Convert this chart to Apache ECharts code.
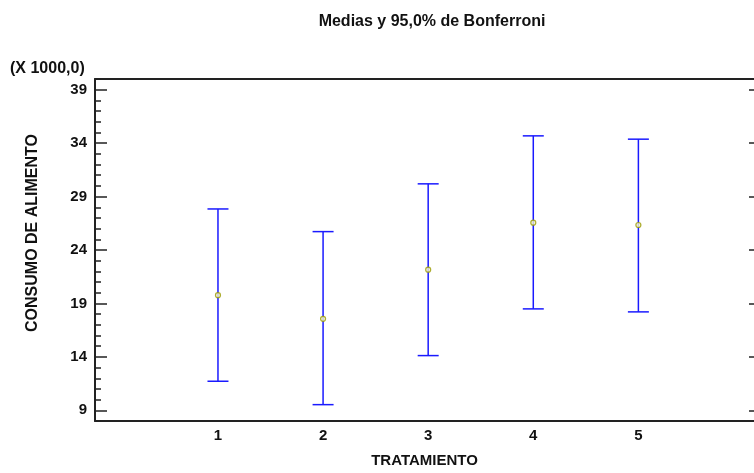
<!DOCTYPE html>
<html>
<head>
<meta charset="utf-8">
<script src="https://cdn.jsdelivr.net/npm/echarts@6/dist/echarts.min.js"></script>
<style>
html,body{margin:0;padding:0;background:#fff;}
#c{width:754px;height:473px;}
</style>
</head>
<body>
<div id="c"></div>
<script>
const categories = ['1', '2', '3', '4', '5'];
const means = [19.77, 17.56, 22.16, 26.56, 26.34];
const lower = [11.72, 9.53, 14.12, 18.49, 18.21];
const upper = [27.84, 25.72, 30.19, 34.68, 34.37];
const yTicks = [9, 14, 19, 24, 29, 34, 39];
const xTicks = [1, 2, 3, 4, 5];

const FONT = 'Liberation Sans, Arial, sans-serif';
const AXIS = '#222';
const BLUE = '#1a1aff';

const chart = echarts.init(document.getElementById('c'));

const barData = categories.map((c, i) => [i + 1, lower[i], upper[i]]);
const meanData = categories.map((c, i) => [i + 1, means[i]]);

chart.setOption({
  animation: false,
  backgroundColor: '#fff',
  title: {
    text: 'Medias y 95,0% de Bonferroni',
    left: 427, top: 9, textAlign: 'center',
    textStyle: {fontFamily: FONT, fontSize: 16, fontWeight: 'bold', color: '#111'}
  },
  grid: {left: 95, right: 0, top: 79, bottom: 52, containLabel: false, outerBoundsMode: 'none'},
  xAxis: [{
    type: 'value', min: -0.17, max: 6.1, position: 'bottom',
    axisLine: {show: true, onZero: false, lineStyle: {color: AXIS, width: 2}},
    axisTick: {show: false},
    splitLine: {show: false},
    axisLabel: {
      customValues: xTicks, margin: 7,
      formatter: v => categories[v - 1] || '',
      fontFamily: FONT, fontSize: 15, fontWeight: 'bold', color: '#111'
    },
    name: 'TRATAMIENTO', nameLocation: 'middle', nameGap: 32,
    nameTextStyle: {fontFamily: FONT, fontSize: 15, fontWeight: 'bold', color: '#111'}
  }, {
    type: 'value', min: -0.17, max: 6.1, position: 'top',
    axisLine: {show: true, onZero: false, lineStyle: {color: AXIS, width: 2}},
    axisTick: {show: false}, axisLabel: {show: false}, splitLine: {show: false}
  }],
  yAxis: [{
    type: 'value', min: 8, max: 40, position: 'left',
    axisLine: {show: true, onZero: false, lineStyle: {color: AXIS, width: 2}},
    axisTick: {show: true, inside: true, length: 12, customValues: yTicks, lineStyle: {color: AXIS, width: 1.5}},
    axisLabel: {
      customValues: yTicks, margin: 8,
      fontFamily: FONT, fontSize: 15, fontWeight: 'bold', color: '#111'
    },
    splitLine: {show: false}
  }, {
    type: 'value', min: 8, max: 40, interval: 1, position: 'left',
    axisLine: {show: false, onZero: false},
    axisTick: {show: true, inside: true, length: 6, lineStyle: {color: AXIS, width: 1.5}},
    axisLabel: {show: false}, splitLine: {show: false}
  }, {
    type: 'value', min: 8, max: 40, position: 'right',
    axisLine: {show: false, onZero: false},
    axisTick: {show: true, inside: true, length: 5, customValues: yTicks, lineStyle: {color: AXIS, width: 1.5}},
    axisLabel: {show: false}, splitLine: {show: false}
  }],
  graphic: [{
    type: 'text', left: 10, top: 61,
    style: {text: '(X 1000,0)', font: 'bold 16px ' + FONT, fill: '#111'}
  }, {
    type: 'text', x: 33, y: 233, rotation: Math.PI / 2,
    style: {text: 'CONSUMO DE ALIMENTO', font: 'bold 16px ' + FONT, fill: '#111', align: 'center', verticalAlign: 'middle'}
  }],
  series: [{
    type: 'custom',
    xAxisIndex: 0, yAxisIndex: 0,
    data: barData,
    renderItem: function (params, api) {
      const x = api.value(0);
      const lo = api.coord([x, api.value(1)]);
      const hi = api.coord([x, api.value(2)]);
      const hw = 10.5;
      const st = {stroke: BLUE, lineWidth: 1.5};
      return {
        type: 'group',
        children: [
          {type: 'line', shape: {x1: lo[0], y1: lo[1], x2: hi[0], y2: hi[1]}, style: st},
          {type: 'line', shape: {x1: lo[0] - hw, y1: lo[1], x2: lo[0] + hw, y2: lo[1]}, style: st},
          {type: 'line', shape: {x1: hi[0] - hw, y1: hi[1], x2: hi[0] + hw, y2: hi[1]}, style: st}
        ]
      };
    },
    z: 2
  }, {
    type: 'scatter',
    xAxisIndex: 0, yAxisIndex: 0,
    data: meanData,
    symbol: 'circle', symbolSize: 5,
    itemStyle: {color: '#f4f4d0', borderColor: '#9a9a00', borderWidth: 1.2},
    z: 3
  }]
});
</script>
</body>
</html>
